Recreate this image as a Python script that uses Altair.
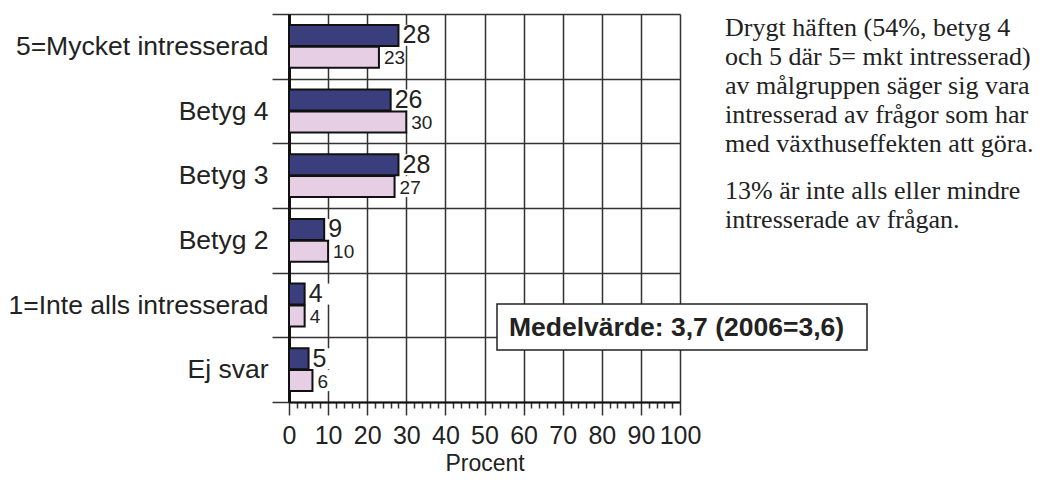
import altair as alt
import pandas as pd

categories = ["5=Mycket intresserad", "Betyg 4", "Betyg 3", "Betyg 2",
              "1=Inte alls intresserad", "Ej svar"]
series = ["2008", "2006"]
values_2008 = [28, 26, 28, 9, 4, 5]
values_2006 = [23, 30, 27, 10, 4, 6]
x_ticks = list(range(0, 101, 2))
mean_note = "Medelvärde: 3,7 (2006=3,6)"
para1 = ["Drygt häften (54%, betyg 4", "och 5 där 5= mkt intresserad)",
         "av målgruppen säger sig vara", "intresserad av frågor som har",
         "med växthuseffekten att göra."]
para2 = ["13% är inte alls eller mindre", "intresserade av frågan."]
colors = ["#3b3e7d", "#e6cfe4"]

rows = []
for c, a, b in zip(categories, values_2008, values_2006):
    rows.append({"cat": c, "series": series[0], "value": a})
    rows.append({"cat": c, "series": series[1], "value": b})
df = pd.DataFrame(rows)

y = alt.Y("cat:N", sort=categories,
          scale=alt.Scale(paddingInner=0, paddingOuter=0),
          axis=alt.Axis(title=None, tickBand="extent", grid=True, gridColor="#333",
                        gridWidth=1.5, tickColor="#333", tickWidth=1.5, tickSize=17,
                        labelFont="Liberation Sans", labelFontSize=26.5, labelColor="#222",
                        labelPadding=4, labelLimit=0, domain=True, domainColor="#111",
                        domainWidth=3, zindex=0))
yoff = alt.YOffset("series:N", sort=series,
                   scale=alt.Scale(paddingInner=0.04, paddingOuter=0.5))
x = alt.X("value:Q", scale=alt.Scale(domain=[0, 100], nice=False),
          axis=alt.Axis(values=x_ticks, title="Procent", titleFont="Liberation Sans",
                        titleFontSize=23, titleFontWeight="normal", titleColor="#222",
                        titlePadding=4,
                        labelExpr="datum.value % 10 === 0 ? datum.label : ''",
                        labelOverlap=False, labelFlush=False,
                        labelFont="Liberation Sans", labelFontSize=25, labelColor="#222",
                        labelPadding=8,
                        tickSize={"condition": {"test": "datum.value % 10 !== 0", "value": 6},
                                  "value": 13},
                        tickColor="#333", tickWidth=1.5,
                        grid=True, gridColor="#333", gridWidth=1.5,
                        gridOpacity={"condition": {"test": "datum.value % 10 !== 0", "value": 0},
                                     "value": 1},
                        domain=True, domainColor="#111", domainWidth=2, zindex=0))

base = alt.Chart(df)

bg = base.transform_calculate(
    xend="datum.value + (datum.series == '2008' ? 7.5 : 5.5)"
).mark_rect(color="white").encode(x=x, x2="xend:Q", y=y, yOffset=yoff)

bars = base.mark_bar(stroke="#111", strokeWidth=2).encode(
    x=x, y=y, yOffset=yoff,
    color=alt.Color("series:N", sort=series,
                    scale=alt.Scale(domain=series, range=colors), legend=None))

lab_dark = base.transform_filter("datum.series == '2008'").mark_text(
    align="left", baseline="middle", dx=4, fontSize=25, font="Liberation Sans",
    color="#222").encode(x=x, y=y, yOffset=yoff, text="value:Q")
lab_pink = base.transform_filter("datum.series == '2006'").mark_text(
    align="left", baseline="middle", dx=5, dy=1, fontSize=19, font="Liberation Sans",
    color="#222").encode(x=x, y=y, yOffset=yoff, text="value:Q")

one = pd.DataFrame({"k": [0]})
box = alt.Chart(one).mark_rect(fill="white", stroke="#222", strokeWidth=1.5).encode(
    x=alt.value(208), x2=alt.value(578), y=alt.value(290), y2=alt.value(336))
box_text = alt.Chart(one).mark_text(
    align="left", baseline="middle", fontWeight="bold", fontSize=26.5,
    font="Liberation Sans", color="#222").encode(
    x=alt.value(220), y=alt.value(314), text=alt.value(mean_note))
p1 = alt.Chart(one).mark_text(
    text=para1, align="left", baseline="alphabetic", fontSize=26, lineHeight=29,
    font="Liberation Serif", color="#222").encode(x=alt.value(436), y=alt.value(22))
p2 = alt.Chart(one).mark_text(
    text=para2, align="left", baseline="alphabetic", fontSize=26, lineHeight=29,
    font="Liberation Serif", color="#222").encode(x=alt.value(436), y=alt.value(185))

chart = alt.layer(bg, bars, lab_dark, lab_pink, box, box_text, p1, p2).properties(
    width=391, height=388,
    autosize=alt.AutoSizeParams(type="none"),
    padding={"left": 281, "top": 6, "right": 361, "bottom": 74},
    background="white",
).configure_view(stroke=None)

chart.save("out.html", embed_options={"renderer": "svg", "actions": False})
